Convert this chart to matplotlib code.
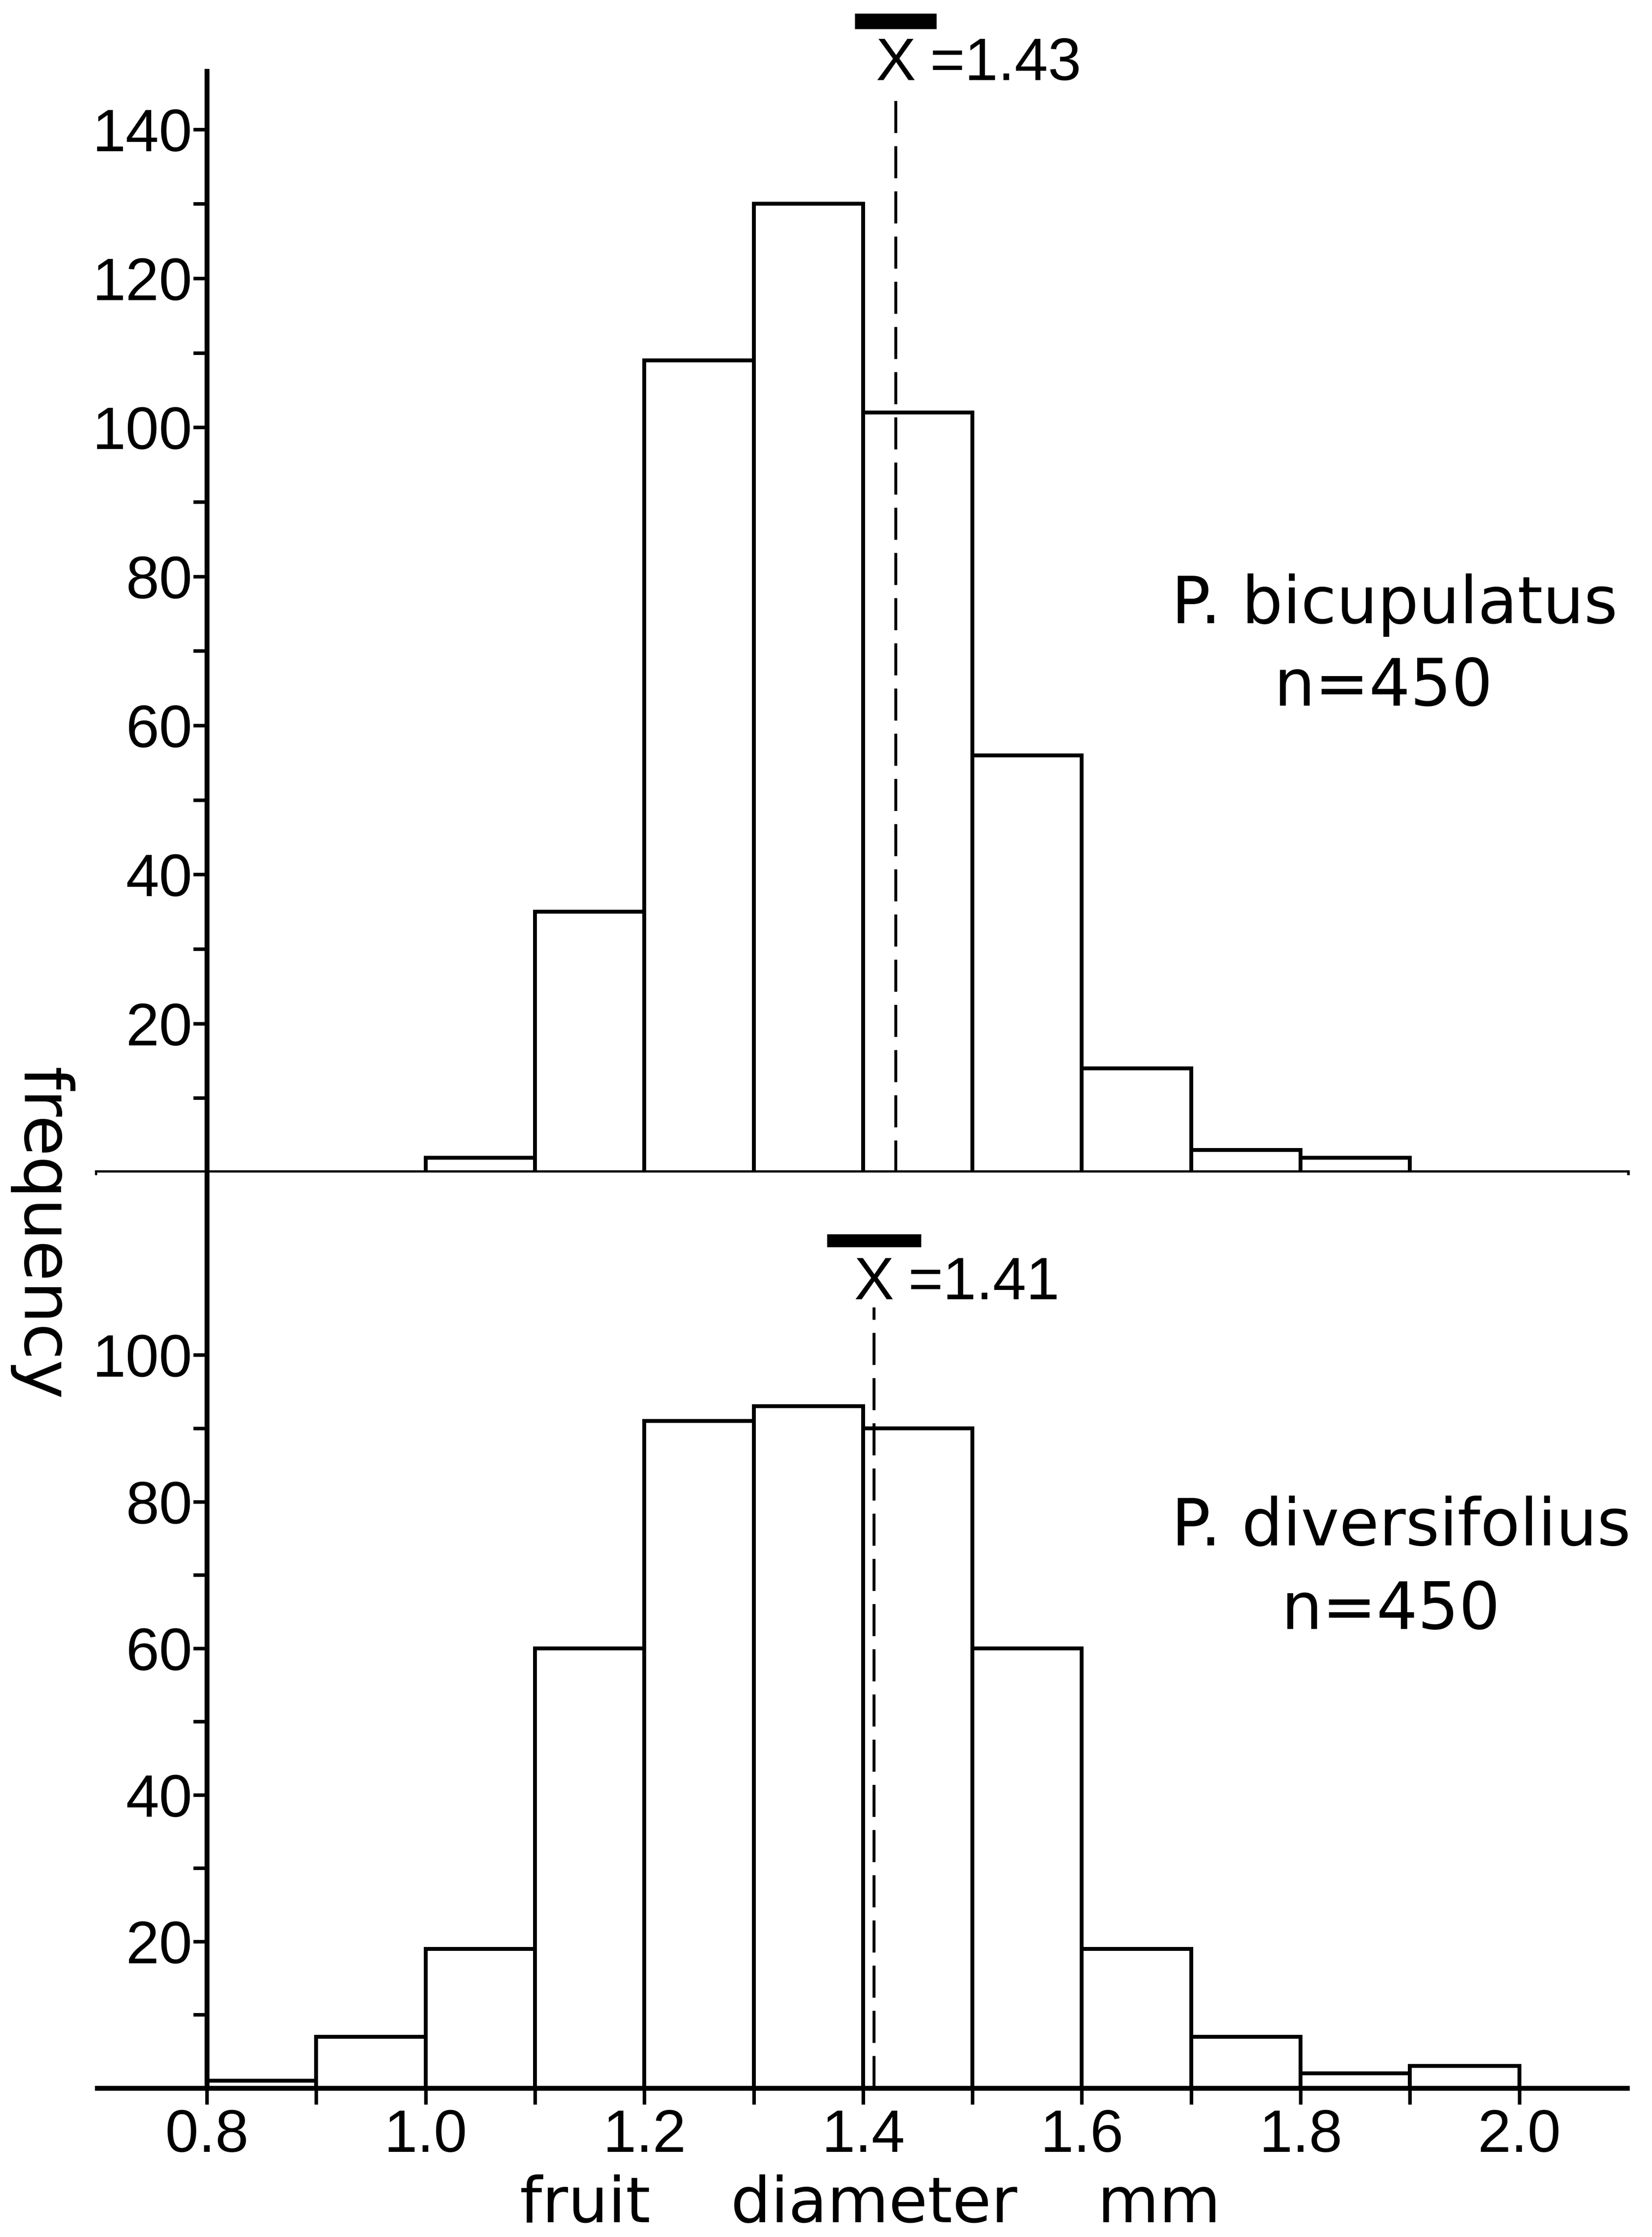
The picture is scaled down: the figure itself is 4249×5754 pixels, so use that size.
import matplotlib
matplotlib.use('Agg')
import matplotlib.pyplot as plt
import numpy as np

plt.rcParams['font.family'] = ['Liberation Sans', 'DejaVu Sans']

# bin edges (mm) and counts
bin_left = [0.8, 0.9, 1.0, 1.1, 1.2, 1.3, 1.4, 1.5, 1.6, 1.7, 1.8, 1.9]
bicupulatus_counts = [0, 0, 2, 35, 109, 130, 102, 56, 14, 3, 2, 0]
diversifolius_counts = [1, 7, 19, 60, 91, 93, 90, 60, 19, 7, 2, 3]
bicupulatus_mean = 1.43
diversifolius_mean = 1.41
species = ['P. bicupulatus', 'P. diversifolius']
n_obs = [450, 450]
x_major = [0.8, 1.0, 1.2, 1.4, 1.6, 1.8, 2.0]
x_major_labels = ['0.8', '1.0', '1.2', '1.4', '1.6', '1.8', '2.0']
x_minor = [0.9, 1.1, 1.3, 1.5, 1.7, 1.9]

W, H = 4249, 5754
fig = plt.figure(figsize=(W / 300, H / 300), dpi=300)

left = 250 / W
width = (4185 - 250) / W
xlim = (0.6997, 2.0986)

ax1 = fig.add_axes([left, 1 - 3016 / H, width, (3016 - 183) / H])
ax2 = fig.add_axes([left, 1 - 5371 / H, width, (5371 - 3016) / H])

spine_lw = 3.0
bar_lw = 2.4
tick_font = 37
label_font = 'DejaVu Sans'


def draw_panel(ax, counts, mean, ylim, yticks, yminor, bar_y, bar_half, bar_lw_pt,
               text_y, dash_top, name, n, name_x, name_y, n_x, n_y):
    lefts = [b for b, c in zip(bin_left, counts) if c > 0]
    heights = [c for c in counts if c > 0]
    ax.bar(lefts, heights, width=0.1, align='edge', facecolor='white',
           edgecolor='black', linewidth=bar_lw, zorder=2)
    ax.set_xlim(*xlim)
    ax.set_ylim(*ylim)
    for s in ['top', 'right']:
        ax.spines[s].set_visible(False)
    ax.spines['left'].set_position(('data', 0.8))
    ax.spines['left'].set_linewidth(spine_lw)
    ax.spines['bottom'].set_linewidth(spine_lw)
    ax.spines['left'].set_zorder(3)
    ax.spines['bottom'].set_zorder(3)

    ax.set_yticks(yticks)
    ax.set_yticks(yminor, minor=True)
    ax.set_yticklabels([str(v) for v in yticks])
    ax.tick_params(axis='y', which='both', direction='out', length=8.5, width=2.2,
                   pad=0.5, labelsize=tick_font)

    # mean line and label
    ax.plot([mean, mean], [0, dash_top], color='black', lw=1.8,
            dashes=(11, 4.5), zorder=4, clip_on=False)
    ax.plot([mean - bar_half, mean + bar_half], [bar_y, bar_y], color='black',
            lw=bar_lw_pt, solid_capstyle='butt', clip_on=False)
    ax.text(mean, text_y, 'X', ha='center', va='baseline', fontsize=tick_font,
            clip_on=False)
    ax.text(mean + 0.031, text_y, '=%.2f' % mean, ha='left', va='baseline',
            fontsize=tick_font, clip_on=False)

    ax.text(name_x, name_y, name, ha='center', va='baseline', fontsize=40,
            family=label_font)
    ax.text(n_x, n_y, 'n=%d' % n, ha='center', va='baseline', fontsize=40,
            family=label_font)


draw_panel(ax1, bicupulatus_counts, bicupulatus_mean, (0, 147.8),
           [20, 40, 60, 80, 100, 120, 140], [10, 30, 50, 70, 90, 110, 130],
           154.5, 0.0373, 9.6, 146.6, 144.9,
           species[0], n_obs[0], 1.886, (3016 - 1603) / 19.17,
           1.876, (3016 - 1815) / 19.17)
draw_panel(ax2, diversifolius_counts, diversifolius_mean, (0, 124.9),
           [20, 40, 60, 80, 100], [10, 30, 50, 70, 90],
           115.6, 0.043, 8.0, 107.6, 106.5,
           species[1], n_obs[1], 1.892, (5371 - 3975) / 18.85,
           1.8825, (5371 - 4190) / 18.85)

ax1.set_xticks(x_major + x_minor)
ax1.set_xticklabels([])
ax1.tick_params(axis='x', direction='out', length=10, width=2.2)

ax2.set_xticks(x_major)
ax2.set_xticklabels(x_major_labels)
ax2.set_xticks(x_minor, minor=True)
ax2.tick_params(axis='x', which='both', direction='out', length=10, width=2.2,
                pad=2.5, labelsize=tick_font)

fig.text(0.025, 1 - 3173 / H, 'frequency', rotation=270, ha='center', va='center',
         fontsize=41, family=label_font)
fig.text(2238 / W, 1 - 5716 / H, 'fruit    diameter    mm', ha='center', va='baseline',
         fontsize=39, family=label_font)

fig.savefig('out.png', dpi=300, facecolor='white')
